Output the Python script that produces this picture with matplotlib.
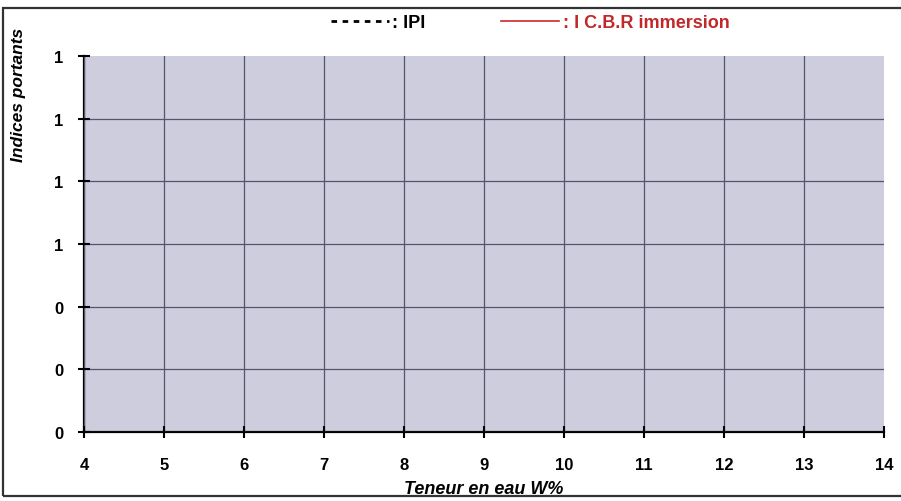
import matplotlib
matplotlib.use("Agg")
import matplotlib.pyplot as plt
from matplotlib.patches import Rectangle
from matplotlib.ticker import FormatStrFormatter

# data (the chart is an empty template: both series have no points)
ipi_w = []
ipi_vals = []
cbr_w = []
cbr_vals = []

x_ticks = [4, 5, 6, 7, 8, 9, 10, 11, 12, 13, 14]
y_ticks = [0.0, 0.2, 0.4, 0.6, 0.8, 1.0, 1.2]

plt.rcParams['font.family'] = ['Liberation Sans', 'DejaVu Sans']
plt.rcParams['font.weight'] = 'bold'

fig = plt.figure(figsize=(9.01, 5.02), dpi=100)
ax = fig.add_axes([84 / 901, 1 - 433 / 502, 800 / 901, 376 / 502])
ax.set_facecolor('#cdcdde')

line_ipi, = ax.plot(ipi_w, ipi_vals, color='black', linestyle=(0, (2, 2)), lw=2,
                    label=': IPI')
line_cbr, = ax.plot(cbr_w, cbr_vals, color='#cc2a2a', lw=1.2,
                    label=': I C.B.R immersion')

ax.set_xlim(4, 14)
ax.set_ylim(0, 1.2)
ax.set_xticks(x_ticks)
ax.set_yticks(y_ticks)
ax.yaxis.set_major_formatter(FormatStrFormatter('%.0f'))

for s in ['top', 'right']:
    ax.spines[s].set_visible(False)
for s in ['left', 'bottom']:
    ax.spines[s].set_linewidth(1.6)
    ax.spines[s].set_color('black')

ax.tick_params(axis='both', direction='inout', length=8, width=1.5, labelsize=12)
ax.tick_params(axis='x', pad=14)
ax.tick_params(axis='y', pad=11)

ax.grid(True, color='#55556a', lw=0.9)
ax.set_axisbelow(False)
# no grid line on the outer edges
ax.get_xgridlines()[-1].set_visible(False)
ax.get_ygridlines()[-1].set_visible(False)

ax.set_xlabel('Teneur en eau W%', fontsize=13, fontstyle='italic',
              fontweight='bold', labelpad=6)
ax.set_ylabel('Indices portants', fontsize=12.5, fontstyle='italic',
              fontweight='bold')
ax.yaxis.set_label_coords(-58 / 800, (433 - 95) / 376)

leg = fig.legend(handles=[line_ipi, line_cbr], loc='center left',
                 bbox_to_anchor=(331 / 901, 1 - 24 / 502), ncol=2, frameon=False,
                 fontsize=13, handlelength=3.2, handletextpad=0.2,
                 columnspacing=4.2, borderaxespad=0, borderpad=0)
leg.get_texts()[0].set_color('black')
leg.get_texts()[1].set_color('#c0282a')

# chart border
fig.patches.append(Rectangle((3 / 901, 5 / 502), 1.0, 1 - 14 / 502,
                             transform=fig.transFigure, fill=False,
                             edgecolor='#333333', lw=1.6))

fig.savefig('out.png', dpi=100)
